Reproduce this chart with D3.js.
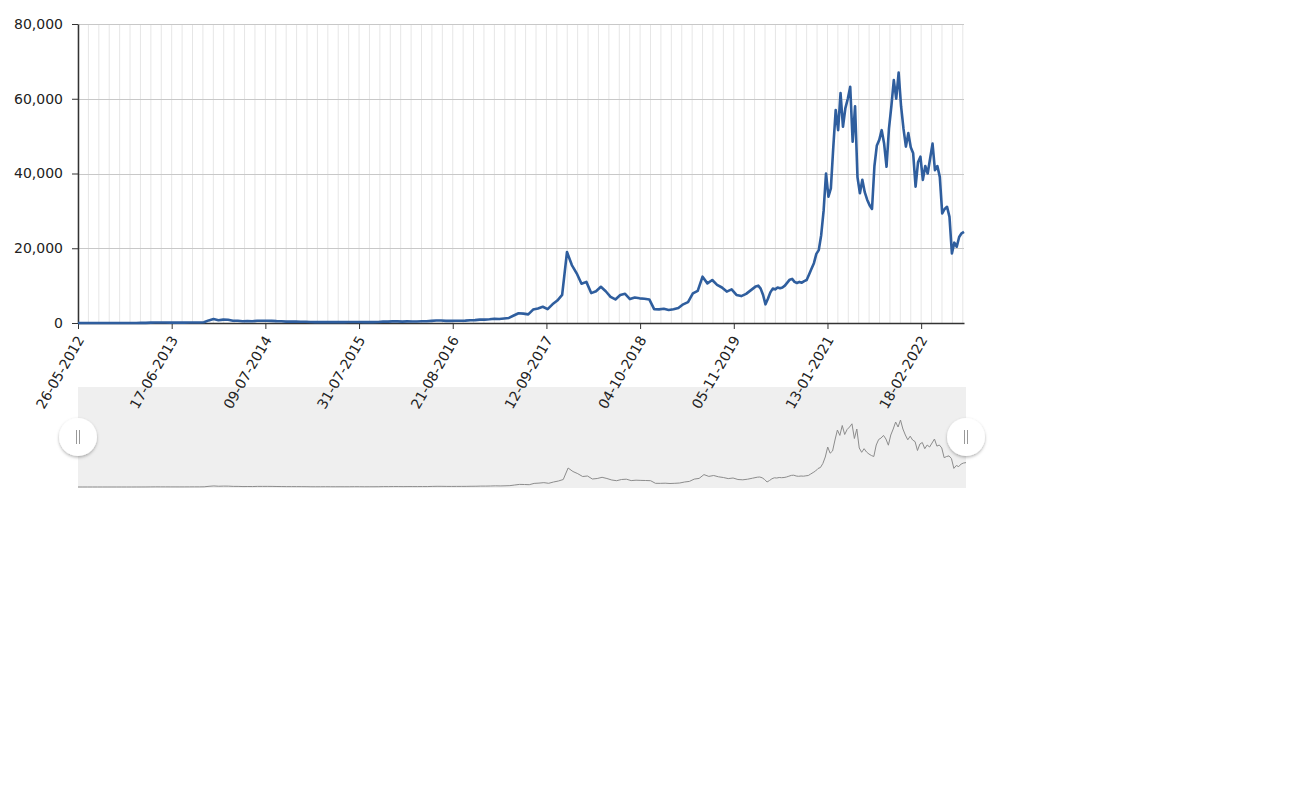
<!DOCTYPE html>
<html>
<head>
<meta charset="utf-8">
<script src="https://cdn.jsdelivr.net/npm/d3@7"></script>
<style>
  body { margin: 0; background: #fff; }
  svg text { font-family: "DejaVu Sans", Verdana, sans-serif; }
</style>
</head>
<body>
<svg id="chart" width="1303" height="794"></svg>
<script>
// ---- data ----
const tickLabels = ["26-05-2012","17-06-2013","09-07-2014","31-07-2015","21-08-2016",
  "12-09-2017","04-10-2018","05-11-2019","13-01-2021","18-02-2022"];
const tickStep = 387;      // data points between labelled ticks
const gridStep = 43;       // data points between vertical grid lines
const totalPoints = 3660;  // length of the daily series (index range)
// early prices (USD): one sample every 20 points from index 0
const earlyStep = 20;
const earlyPrices = [
  5,6,7,9,11,11,12,12,11,12,
  13,14,18,25,45,90,130,115,125,105,
  95,90,105,120,130,140,200,700,1050,750,
  900,850,620,600,450,500,450,620,600,620,
  580,500,450,380,390,370,350,320,250,230,
  240,270,240,225,240,230,250,285,270,230,
  235,245,280,380,360,430,430,380,430,415,
  420,450,450,580,680,660,580,575,605,610,
  640,720,760,900,900,1000,1150,1050,1200,1350,
  2000,2600,2500,2300,3600,3900,4350,3700,5000,6000,
  7500,19000,15500,13300,10500,11000,8000,8500,9700,8500,
  7000,6300,7500,7800,6400,6800,6600,6500,6300,3700,
  3650,3800,3500,3700,4000,5000,5600,7900,8600,12400,
  10600,11500,10200,9500,8400,9000,7500,7200,7800,8800
];
// late prices (USD): one sample every 10 points from index 2800
const lateStart = 2800, lateStep = 10;
const latePrices = [
  9800,10000,9200,7500,5000,6500,8200,9200,9000,9500,
  9300,9500,10000,10800,11600,11800,11000,10700,11000,10800,
  11200,11500,13000,14500,16000,18500,19500,23500,30000,40000,
  33800,36000,47000,57000,51600,61500,52500,57500,60000,63200,
  48500,58000,39000,34700,38300,35000,33000,31500,30500,42000,
  47500,49000,51600,48000,41800,52000,58000,65000,60000,67000,
  58000,52000,47200,50800,47000,45400,36500,43000,44500,38300,
  42000,40000,44000,48000,40900,42000,39100,29300,30500,31100,
  28400,18600,21500,20400,23000,24000,24400
];
const yTicks = [0, 20000, 40000, 60000, 80000];

// combine into [index, price] pairs
const series = earlyPrices.map((v, i) => [i * earlyStep, v])
  .concat(latePrices.map((v, i) => [lateStart + i * lateStep, v]));

// ---- layout ----
const svg = d3.select("#chart");
const mLeft = 78, mRight = 964, mTop = 24, mBottom = 323;

const x = d3.scaleLinear().domain([0, totalPoints]).range([mLeft, mRight]);
const y = d3.scaleLinear().domain([0, 80000]).range([mBottom, mTop]);

// ---- navigator (drawn first so axis labels sit over it) ----
const navTop = 387, navBottom = 488, navRight = 966;
svg.append("rect").attr("x", mLeft).attr("y", navTop)
  .attr("width", navRight - mLeft).attr("height", navBottom - navTop).attr("fill", "#efefef");
const xn = d3.scaleLinear().domain([0, totalPoints]).range([mLeft, navRight]);
const yn = d3.scaleLinear().domain([0, d3.max(series, d => d[1])]).range([487, 420]);
const navLine = d3.line().x(d => xn(d[0])).y(d => yn(d[1]));
svg.append("path").datum(series).attr("d", navLine).attr("fill", "none")
  .attr("stroke", "#8c8c8c").attr("stroke-width", 1);

const defs = svg.append("defs");
const f = defs.append("filter").attr("id", "sh").attr("x", "-50%").attr("y", "-50%").attr("width", "200%").attr("height", "200%");
f.append("feDropShadow").attr("dx", 0).attr("dy", 1.5).attr("stdDeviation", 1.8).attr("flood-color", "#000").attr("flood-opacity", 0.3);

const hg = svg.append("g").selectAll("g").data([mLeft, navRight]).join("g")
  .attr("transform", d => `translate(${d},437)`);
hg.append("circle").attr("r", 19).attr("fill", "#fff").attr("filter", "url(#sh)");
hg.append("line").attr("x1", -1.5).attr("x2", -1.5).attr("y1", -7).attr("y2", 7).attr("stroke", "#999").attr("stroke-width", 1);
hg.append("line").attr("x1", 1.5).attr("x2", 1.5).attr("y1", -7).attr("y2", 7).attr("stroke", "#999").attr("stroke-width", 1);

// ---- main plot ----
// vertical grid
const gridIdx = d3.range(0, totalPoints + 1, gridStep);
svg.append("g").selectAll("line").data(gridIdx).join("line")
  .attr("x1", d => x(d)).attr("x2", d => x(d))
  .attr("y1", mTop).attr("y2", mBottom)
  .attr("stroke", "#e6e6e6").attr("stroke-width", 1);

// horizontal grid
svg.append("g").selectAll("line").data(yTicks.filter(d => d > 0)).join("line")
  .attr("x1", mLeft).attr("x2", mRight)
  .attr("y1", d => Math.round(y(d)) + 0.5).attr("y2", d => Math.round(y(d)) + 0.5)
  .attr("stroke", "#c8c8c8").attr("stroke-width", 1);

// y axis
const yAxis = d3.axisLeft(y).tickValues(yTicks).tickFormat(d3.format(",")).tickSize(6).tickPadding(9).tickSizeOuter(0);
const gy = svg.append("g").attr("transform", `translate(${mLeft},0)`).call(yAxis);
gy.select(".domain").attr("stroke", "#333").attr("stroke-width", 1.5);
gy.selectAll(".tick line").attr("stroke", "#333");
gy.selectAll(".tick text").attr("font-size", 14).attr("fill", "#222")
  .attr("font-family", "DejaVu Sans, Verdana, sans-serif");

// x axis
const tickIdx = tickLabels.map((_, i) => i * tickStep);
const xAxis = d3.axisBottom(x).tickValues(tickIdx).tickFormat((d, i) => tickLabels[i]).tickSize(6).tickSizeOuter(0);
const gx = svg.append("g").attr("transform", `translate(0,${mBottom})`).call(xAxis);
gx.select(".domain").attr("stroke", "#333").attr("stroke-width", 1.5);
gx.selectAll(".tick line").attr("stroke", "#333");
gx.selectAll(".tick text").attr("font-size", 14).attr("fill", "#222")
  .attr("font-family", "DejaVu Sans, Verdana, sans-serif")
  .attr("text-anchor", "end")
  .attr("transform", "translate(2,14) rotate(-60)")
  .attr("dy", "0.35em").attr("y", 0).attr("x", 0);

// main line
const line = d3.line().x(d => x(d[0])).y(d => y(d[1]));
svg.append("path").datum(series)
  .attr("d", line).attr("fill", "none")
  .attr("stroke", "#2f5e9e").attr("stroke-width", 2.6).attr("stroke-linejoin", "round");
</script>
</body>
</html>
